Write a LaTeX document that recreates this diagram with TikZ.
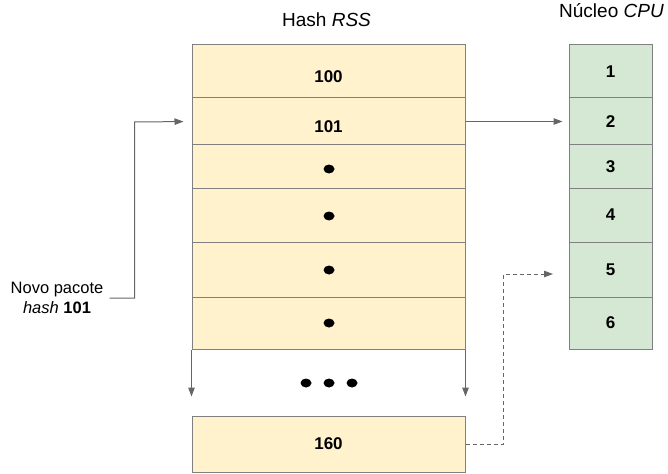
\documentclass[tikz,border=0pt]{standalone}
\usepackage{fontspec}
\setmainfont{Liberation Sans}
\usetikzlibrary{arrows.meta,calc,positioning}
\definecolor{RssFill}{HTML}{FFF2CC}
\definecolor{CpuFill}{HTML}{D5E8D4}
\definecolor{CellLine}{HTML}{808080}
\definecolor{ArrowLine}{HTML}{666666}
\tikzset{
  hashcell/.style={draw=CellLine,fill=RssFill,line width=1pt,minimum width=273pt,
    inner sep=0pt,font=\fontsize{17}{20}\selectfont\bfseries},
  lowtext/.style={text height=22pt,text depth=0pt},
  cpucell/.style={draw=CellLine,fill=CpuFill,line width=1pt,minimum width=83pt,
    inner sep=0pt,font=\fontsize{17}{20}\selectfont\bfseries},
  heading/.style={anchor=base,font=\fontsize{19}{23}\selectfont},
  link/.style={draw=ArrowLine,line width=1pt,-{Triangle[length=9pt,width=6.5pt]}},
  dotted link/.style={link,dash pattern=on 4pt off 3pt},
}

\begin{document}
\begin{tikzpicture}[x=1pt,y=-1pt]
        \useasboundingbox (0,0) rectangle (668,473);
        \node[heading] (rsstitle) at (326.5,26.7) {Hash \textit{RSS}};
        \node[heading] (cputitle) at (611.5,17.5) {Núcleo \textit{CPU}};
        % hash table
        \node[hashcell,lowtext,minimum height=53pt] (h100) at (328.5,71.5) {100};
        \node[hashcell,lowtext,minimum height=47pt] (h101) at (328.5,121.5) {101};
        \node[hashcell,minimum height=43pt] (h3) at (328.5,166.5) {};
        \node[hashcell,minimum height=54pt] (h4) at (328.5,215) {};
        \node[hashcell,minimum height=55pt] (h5) at (328.5,269.5) {};
        \node[hashcell,minimum height=52pt] (h6) at (328.5,323) {};
        \node[hashcell,minimum height=56pt] (h160) at (328.5,444) {160};
        \fill (329,169) ellipse [x radius=5.5pt,y radius=4.5pt];
        \fill (329,216) ellipse [x radius=5.5pt,y radius=4.5pt];
        \fill (329,270) ellipse [x radius=5.5pt,y radius=4.5pt];
        \fill (329,323) ellipse [x radius=5.5pt,y radius=4.5pt];
        \foreach \dx in {306,329,352}
          \fill (\dx,383) ellipse [x radius=5.5pt,y radius=4.5pt];
        % cpu cores
        \node[cpucell,minimum height=53pt] (c1) at (610.5,71.5) {1};
        \node[cpucell,minimum height=47pt] (c2) at (610.5,121.5) {2};
        \node[cpucell,minimum height=43pt] (c3) at (610.5,166.5) {3};
        \node[cpucell,minimum height=54pt] (c4) at (610.5,215) {4};
        \node[cpucell,minimum height=55pt] (c5) at (610.5,269.5) {5};
        \node[cpucell,minimum height=52pt] (c6) at (610.5,323) {6};
        % incoming packet
        \node[align=center,inner sep=6pt,font=\fontsize{16.5}{19.4}\selectfont]
          (novo) at (57,298) {Novo pacote\\\textit{hash} \textbf{101}};
        \coordinate (inbend) at (134.5,122);
        \coordinate (dashbend) at (503,274);
        \coordinate (dashend) at (553,274);
        \draw[link,shorten >=8pt] (novo.east) -| (inbend) -- (h101.west);
        \draw[link,shorten >=6pt] (h101.east) -- (c2.west);
        \draw[link,shorten >=19pt] (h6.south west) -- (h160.north west);
        \draw[link,shorten >=19pt] (h6.south east) -- (h160.north east);
        \draw[dotted link] (h160.east) -| (dashbend) -- (dashend);
      \end{tikzpicture}
\end{document}
